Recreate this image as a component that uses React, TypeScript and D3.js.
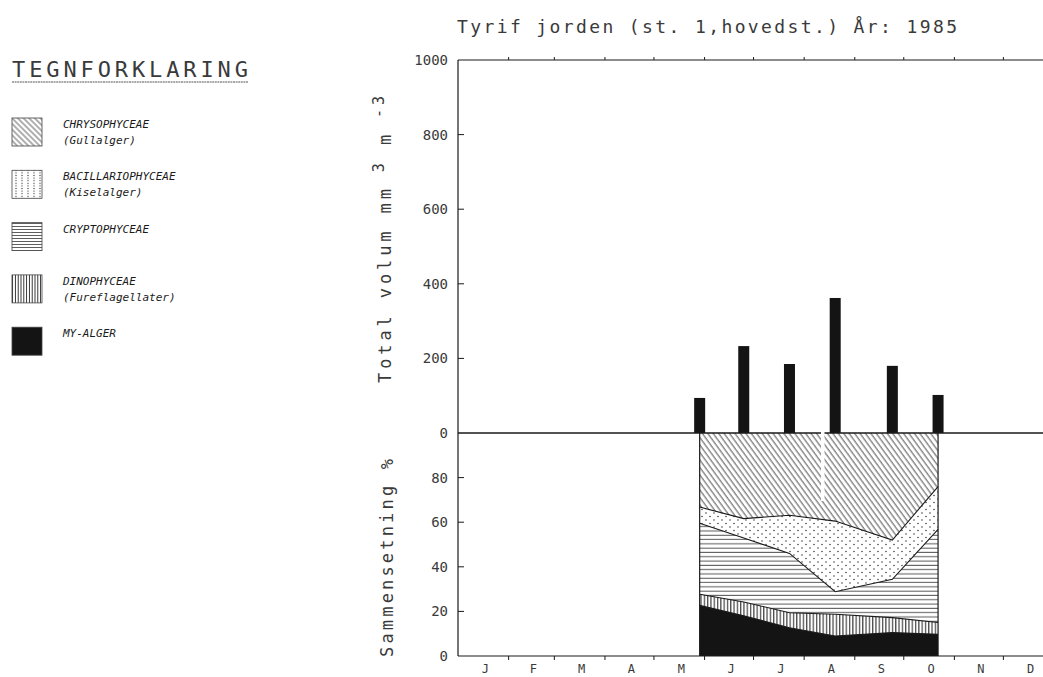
import React from 'react';
import * as d3 from 'd3';

const months = ['J', 'F', 'M', 'A', 'M', 'J', 'J', 'A', 'S', 'O', 'N', 'D'];
const sampleDates = ['1985-05-29', '1985-06-25', '1985-07-23', '1985-08-20', '1985-09-24', '1985-10-22'];
const totalVolume = [94, 233, 185, 362, 180, 102];
const myAlger = [22.7, 18, 12.7, 9, 10.5, 9.7];
const dinophyceae = [5, 6.2, 6.7, 9.7, 6.7, 5.3];
const cryptophyceae = [31.8, 28.7, 26.6, 10.1, 17.2, 41.8];
const bacillariophyceae = [7.3, 8.7, 17.1, 31.7, 17.6, 19.2];
const chrysophyceae = [33.2, 38.4, 36.9, 39.5, 48, 24];
const volumeTicks = [0, 200, 400, 600, 800, 1000];
const percentTicks = [0, 20, 40, 60, 80];
const seriesKeys = ['my', 'dino', 'crypto', 'bacil', 'chryso'];
const legendItems = [
  { key: 'chryso', l1: 'CHRYSOPHYCEAE', l2: '(Gullalger)' },
  { key: 'bacil', l1: 'BACILLARIOPHYCEAE', l2: '(Kiselalger)' },
  { key: 'crypto', l1: 'CRYPTOPHYCEAE', l2: '' },
  { key: 'dino', l1: 'DINOPHYCEAE', l2: '(Fureflagellater)' },
  { key: 'my', l1: 'MY-ALGER', l2: '' },
];
const titleText = 'Tyrif jorden (st. 1,hovedst.)  År: 1985';

const FONT = '"DejaVu Sans Mono", "Liberation Mono", monospace';
const INK = '#1a1a1a';
const TXT = '#3a3a3a';

export default function App() {
  const W = 1043, H = 677;
  const left = 458;
  const parse = d3.timeParse('%Y-%m-%d');
  const dates = sampleDates.map((s) => parse(s) as Date);
  const x = d3.scaleTime().domain([new Date(1985, 0, 1), new Date(1986, 0, 1)]).range([left, 1054]);
  const yTop = d3.scaleLinear().domain([0, 1000]).range([433, 60]);
  const yBot = d3.scaleLinear().domain([0, 100]).range([656, 433]);

  const rows = dates.map((d, i) => ({
    date: d,
    my: myAlger[i],
    dino: dinophyceae[i],
    crypto: cryptophyceae[i],
    bacil: bacillariophyceae[i],
    chryso: chrysophyceae[i],
  }));
  const stack = d3.stack<any>().keys(seriesKeys);
  const layers = stack(rows);
  const area = d3
    .area<any>()
    .x((d) => x(d.data.date))
    .y0((d) => yBot(d[0]))
    .y1((d) => yBot(d[1]));
  const line = d3
    .line<any>()
    .x((d) => x(d.data.date))
    .y((d) => yBot(d[1]));

  const fills: Record<string, string> = {
    my: '#141414',
    dino: 'url(#vlines)',
    crypto: 'url(#hlines)',
    bacil: 'url(#dots)',
    chryso: 'url(#hatch)',
  };
  const legFills: Record<string, string> = {
    my: '#141414',
    dino: 'url(#vlinesL)',
    crypto: 'url(#hlinesL)',
    bacil: 'url(#dotsL)',
    chryso: 'url(#hatchL)',
  };

  const monthStarts = d3.timeMonth.range(new Date(1985, 0, 1), new Date(1986, 0, 1));
  const barW = 11;

  return (
    <svg
      width={W}
      height={H}
      style={{ position: 'absolute', left: 0, top: 0, background: '#fff' }}
      xmlns="http://www.w3.org/2000/svg"
    >
      <defs>
        <pattern id="hatch" width="4.4" height="10" patternUnits="userSpaceOnUse" patternTransform="rotate(-36)">
          <line x1="1" y1="0" x2="1" y2="10" stroke={INK} strokeWidth="0.8" />
        </pattern>
        <pattern id="dots" width="8" height="7" patternUnits="userSpaceOnUse">
          <circle cx="2" cy="2" r="0.7" fill={INK} />
          <circle cx="6" cy="5.5" r="0.7" fill={INK} />
        </pattern>
        <pattern id="hlines" width="10" height="4.3" patternUnits="userSpaceOnUse">
          <line x1="0" y1="2" x2="10" y2="2" stroke={INK} strokeWidth="0.8" />
        </pattern>
        <pattern id="vlines" width="3.3" height="10" patternUnits="userSpaceOnUse">
          <line x1="1.5" y1="0" x2="1.5" y2="10" stroke={INK} strokeWidth="1" />
        </pattern>
        <pattern id="hatchL" width="4" height="10" patternUnits="userSpaceOnUse" patternTransform="rotate(-45)">
          <line x1="1" y1="0" x2="1" y2="10" stroke={INK} strokeWidth="0.7" />
        </pattern>
        <pattern id="dotsL" width="6" height="2.6" patternUnits="userSpaceOnUse" x="13">
          <circle cx="3" cy="1.3" r="0.55" fill={INK} />
        </pattern>
        <pattern id="hlinesL" width="10" height="3" patternUnits="userSpaceOnUse">
          <line x1="0" y1="1.5" x2="10" y2="1.5" stroke={INK} strokeWidth="0.7" />
        </pattern>
        <pattern id="vlinesL" width="2.8" height="10" patternUnits="userSpaceOnUse">
          <line x1="1.4" y1="0" x2="1.4" y2="10" stroke={INK} strokeWidth="0.9" />
        </pattern>
      </defs>

      {/* Legend */}
      <text x={12} y={77} fontFamily={FONT} fontSize={22} fill={TXT} textLength={236} lengthAdjust="spacing">
        TEGNFORKLARING
      </text>
      <line x1={12} x2={248} y1={82} y2={82} stroke="#555" strokeWidth={1} strokeDasharray="2 0.6" />
      {legendItems.map((it, i) => {
        const top = 118 + i * 52.3;
        return (
          <g key={it.key}>
            <rect x={12} y={top} width={30} height={28} fill={legFills[it.key]} stroke="#444" strokeWidth={0.8} />
            <text x={63} y={top + 10} fontFamily={FONT} fontStyle="italic" fontSize={11} fill={INK}>
              {it.l1}
            </text>
            {it.l2 && (
              <text x={63} y={top + 26} fontFamily={FONT} fontStyle="italic" fontSize={11} fill={INK}>
                {it.l2}
              </text>
            )}
          </g>
        );
      })}

      {/* Title */}
      <text x={457} y={33} fontFamily={FONT} fontSize={18} fill={TXT} textLength={500} lengthAdjust="spacing">
        {titleText}
      </text>

      {/* Axis labels */}
      <text
        transform="translate(391,383) rotate(-90)"
        fontFamily={FONT}
        fontSize={17}
        fill={TXT}
        letterSpacing={3.9}
      >
        Total volum mm
        <tspan dy={-7} fontSize={15}> 3</tspan>
        <tspan dy={7}> m</tspan>
        <tspan dy={-7} fontSize={15}> -3</tspan>
      </text>
      <text
        transform="translate(393,657) rotate(-90)"
        fontFamily={FONT}
        fontSize={17}
        fill={TXT}
        textLength={198}
        lengthAdjust="spacing"
      >
        Sammensetning %
      </text>

      {/* Composition areas */}
      {layers.map((layer: any) => (
        <path key={layer.key} d={area(layer) || ''} fill={fills[layer.key]} stroke="none" />
      ))}
      {layers.slice(0, 4).map((layer: any) => (
        <path key={'l' + layer.key} d={line(layer) || ''} fill="none" stroke={INK} strokeWidth={1.1} />
      ))}
      <line x1={x(dates[0])} x2={x(dates[0])} y1={yBot(0)} y2={yBot(100)} stroke={INK} strokeWidth={1.2} />
      <line
        x1={x(dates[dates.length - 1])}
        x2={x(dates[dates.length - 1])}
        y1={yBot(0)}
        y2={yBot(100)}
        stroke={INK}
        strokeWidth={1.2}
      />

      {/* Bars */}
      {totalVolume.map((v, i) => (
        <rect key={i} x={x(dates[i]) - barW / 2} y={yTop(v)} width={barW} height={yTop(0) - yTop(v)} fill="#141414" />
      ))}

      {/* Axes */}
      <line x1={left} x2={W} y1={yTop(1000)} y2={yTop(1000)} stroke={INK} strokeWidth={1} />
      <line x1={left} x2={W} y1={yTop(0)} y2={yTop(0)} stroke={INK} strokeWidth={1.6} />
      <line x1={left} x2={W} y1={yBot(0)} y2={yBot(0)} stroke={INK} strokeWidth={1.2} />
      <line x1={left} x2={left} y1={yTop(1000)} y2={yBot(0)} stroke={INK} strokeWidth={1.2} />

      {volumeTicks.map((t) => (
        <g key={'v' + t}>
          {t > 0 && t < 1000 && <line x1={left} x2={left + 6} y1={yTop(t)} y2={yTop(t)} stroke={INK} strokeWidth={1} />}
          <text
            x={448}
            y={yTop(t)}
            textAnchor="end"
            dominantBaseline="central"
            fontFamily={FONT}
            fontSize={14}
            fill={TXT}
          >
            {t}
          </text>
        </g>
      ))}
      {percentTicks.map((t) => (
        <g key={'p' + t}>
          {t > 0 && <line x1={left} x2={left + 6} y1={yBot(t)} y2={yBot(t)} stroke={INK} strokeWidth={1} />}
          <text
            x={448}
            y={yBot(t)}
            textAnchor="end"
            dominantBaseline="central"
            fontFamily={FONT}
            fontSize={14}
            fill={TXT}
          >
            {t}
          </text>
        </g>
      ))}

      {monthStarts.slice(1).map((m, i) => (
        <g key={'m' + i}>
          <line x1={x(m)} x2={x(m)} y1={yTop(1000)} y2={yTop(1000) - 3} stroke={INK} strokeWidth={1} />
          <line x1={x(m)} x2={x(m)} y1={yBot(0)} y2={yBot(0) + 4} stroke={INK} strokeWidth={1} />
        </g>
      ))}
      {monthStarts.map((m, i) => {
        const mid = new Date(m.getTime() + (d3.timeMonth.offset(m, 1).getTime() - m.getTime()) / 2);
        return (
          <text
            key={'ml' + i}
            x={x(mid) + 2}
            y={673}
            textAnchor="middle"
            fontFamily={FONT}
            fontSize={12}
            fill={TXT}
          >
            {months[i]}
          </text>
        );
      })}

      {/* scan gap */}
      <rect x={821} y={429} width={3.5} height={72} fill="#fff" />
    </svg>
  );
}
